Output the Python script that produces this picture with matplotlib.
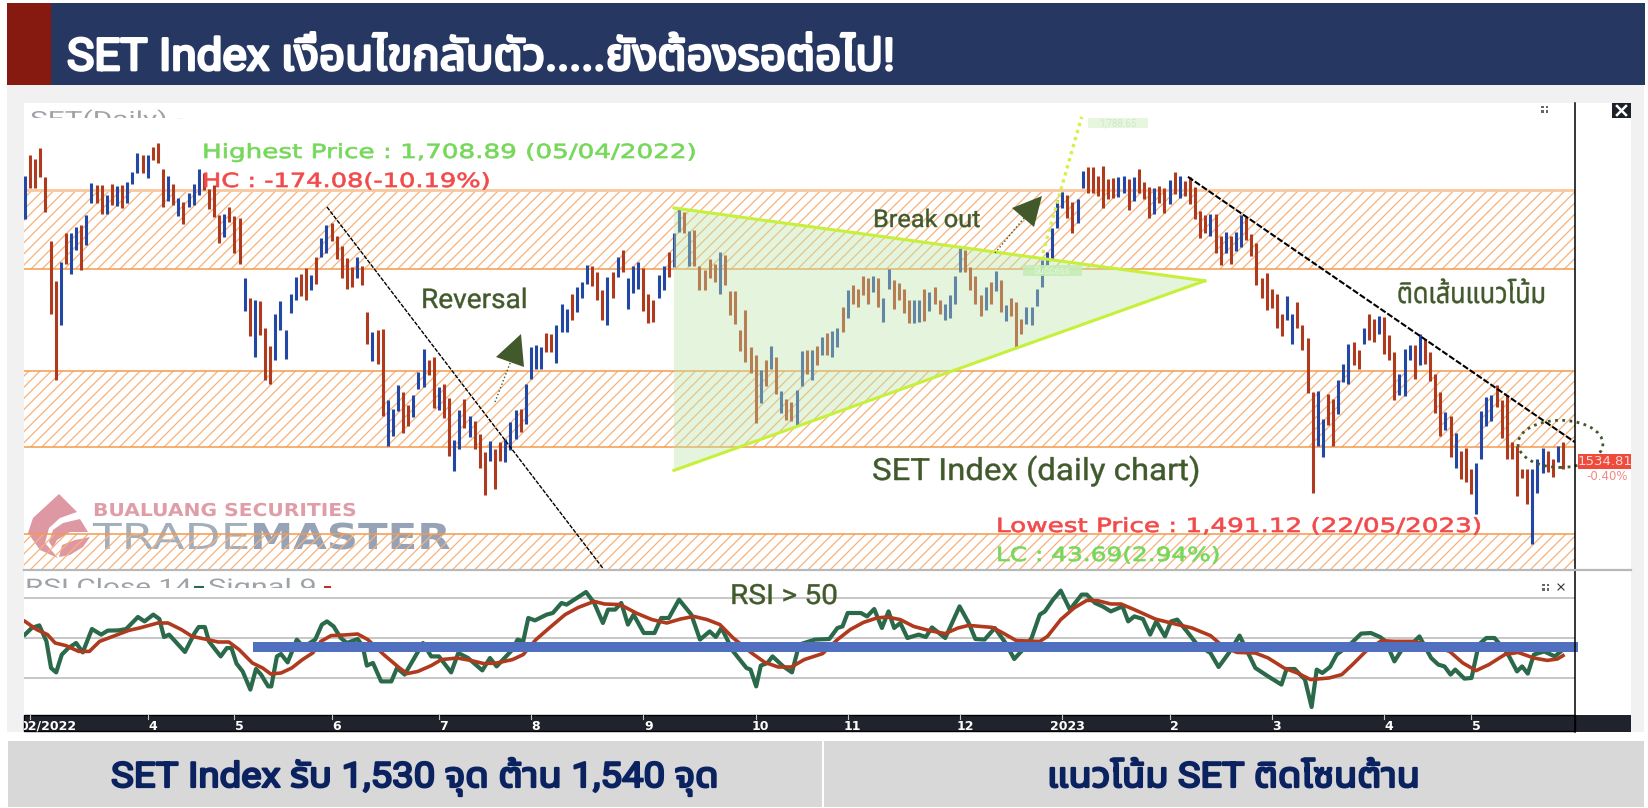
import matplotlib
matplotlib.use("Agg")
import matplotlib.pyplot as plt
from matplotlib import font_manager as fm
from matplotlib.ft2font import FT2Font
from matplotlib.patches import Rectangle, Polygon, Ellipse
from matplotlib.patheffects import AbstractPathEffect
from matplotlib.transforms import Affine2D

HIGH = [1690.9,1702.3,1699.9,1705.9,1690.1,1655.7,1633.9,1644.2,1660,1659.7,
1663.3,1664.2,1669.5,1686.9,1686,1686,1680.5,1686.3,1685.4,1686,
1687.8,1693.2,1703.2,1702.3,1702.3,1706.8,1709,1694.5,1690.9,1686.5,
1678.7,1676.5,1681.8,1686.5,1694.5,1692.3,1683.6,1686,1669.6,1670.2,
1673.8,1669.1,1667.8,1635.5,1624.8,1623.7,1623,1608.5,1598.3,1616.1,
1623,1607.4,1626.6,1636.1,1637.5,1641.1,1637,1646.9,1656.9,1664.2,
1665.5,1658.4,1652.8,1646.4,1641.5,1646.6,1641.9,1617,1606.1,1607,
1607.9,1568.9,1564.4,1577.1,1573.4,1566.2,1571.6,1584.3,1597,1590.7,
1592.5,1576.2,1577.6,1570.4,1547.5,1563.8,1569.8,1560.7,1557.7,1550.8,
1540.8,1547.1,1542.6,1546.2,1548,1557.1,1563.8,1564.4,1577.6,1597.9,
1598.9,1597.9,1605.6,1604.8,1609.7,1621.5,1618.8,1626.6,1630.6,1633.3,
1642.4,1641.9,1638.8,1628.8,1636.1,1638.8,1646.9,1650.9,1635.2,1641.9,
1644.2,1641.1,1627,1623.4,1637,1641.9,1649.7,1659.7,1672.7,1671.5,
1661.1,1661.5,1641.9,1639.7,1646,1643.3,1649.7,1647.9,1628.4,1628.4,
1607,1617.9,1597.9,1593.4,1585.6,1591,1598.3,1592.5,1574.3,1569.8,
1568,1574.7,1595.6,1596.5,1596.1,1598.3,1603.4,1605.6,1606.7,1608.5,
1619.7,1628.8,1631.5,1629.2,1636.6,1635.2,1636.4,1635.2,1624.3,1640.1,
1634.6,1632.8,1629.7,1623.4,1623.4,1623.7,1629.7,1627.9,1630.6,1623.4,
1621.2,1626.1,1636.4,1651.5,1650.9,1641.5,1636.4,1626.1,1630.6,1633.3,
1639.3,1634.2,1620.6,1624.8,1622.4,1613.4,1619.7,1619.7,1629.7,1645.1,
1649.7,1662.4,1677.8,1682.3,1680.5,1676.9,1678.2,1693.8,1695.6,1695.6,
1690.9,1696.3,1689.1,1689.6,1690.1,1690.9,1689.1,1690.1,1694.5,1687.8,
1684.7,1684.2,1685.4,1684.2,1688.7,1693.2,1690.9,1688.3,1690.1,1685.1,
1672,1669.6,1670.2,1670.2,1658.2,1660.6,1658.2,1660.6,1669.6,1668.7,
1659.3,1654.2,1635.7,1637.9,1629.2,1626.6,1616.1,1625.5,1616.1,1622.4,
1609.7,1603,1573.4,1574.3,1558.9,1572.5,1569.8,1580.2,1588.9,1599.4,
1600.7,1596.5,1608.5,1616.1,1613.4,1614.7,1614.3,1604.3,1595.2,1583.4,
1597,1598.9,1598.9,1604.8,1602.5,1595.2,1583.1,1573.4,1562.6,1560.7,
1551.1,1541.3,1543.1,1531.7,1534.8,1563.1,1570.7,1571.6,1577.1,1569.3,
1571.6,1546.2,1544.4,1531.7,1531.7,1531.7,1537.1,1543.1,1541.7,1537.1,
1543.9,1546.2]

LOW = [1667.3,1684.2,1684.2,1690.1,1671.5,1616.1,1580.2,1610.1,1642.8,1637.5,
1650.9,1639.7,1653.3,1676.4,1676.4,1670.2,1670.2,1675.1,1674.5,1673.3,
1676,1686.3,1692.3,1692.7,1689.6,1699.6,1698.1,1674.2,1677.4,1675.1,
1669.1,1664.7,1673.8,1675.1,1680.5,1683.2,1672.7,1668.7,1654.6,1657.8,
1666,1649.1,1642.8,1617.5,1603.8,1592.5,1604.3,1579.8,1577.6,1590.7,
1607,1591.6,1616.5,1623.4,1625.5,1623.7,1628.8,1632.1,1646.6,1649.1,
1655.7,1645.5,1635.7,1629.7,1630.6,1635.7,1631.5,1599.4,1590.3,1588.9,
1560.7,1543.9,1549.8,1563.1,1551.1,1555.3,1559.8,1575.3,1576.2,1582.5,
1564.9,1563.8,1559.5,1539,1530.8,1542.6,1554,1549.3,1542.6,1532.2,
1517.7,1535.9,1520.8,1535.9,1535.3,1542,1548,1551.7,1556.2,1580.7,
1586.1,1586.1,1595.2,1595.2,1589.2,1606.1,1606.1,1612.5,1617,1624.3,
1632.4,1631,1623.7,1612.5,1609.7,1624.3,1636.1,1638.8,1618.8,1627.3,
1629.7,1617.5,1611,1611.6,1624.8,1628.8,1636.1,1641.5,1660.6,1660,
1641.9,1641.9,1628.8,1628.8,1635.2,1633.3,1627,1631.5,1615.2,1610.3,
1595.8,1589.8,1583.8,1556.6,1567.5,1576.5,1586.1,1572.5,1562,1558.4,
1558,1555.3,1576.5,1583.4,1579.8,1588,1593.4,1593.4,1592.5,1597.9,
1606.1,1613.9,1621.5,1619.7,1626.1,1621.2,1627.9,1619.7,1611.6,1629.7,
1618.8,1623.4,1616.5,1611,1611,1611.6,1612.1,1617.5,1621.5,1615.7,
1612.5,1613.9,1621.5,1638.8,1638.8,1628.8,1621.2,1614.6,1617.9,1621.5,
1628.4,1617,1612.1,1614.6,1597.9,1604.8,1610.7,1609.7,1620.1,1630.6,
1642.4,1646,1662.4,1673.3,1667.8,1659.7,1665.1,1684.2,1681.4,1681.4,
1680,1673.3,1678.2,1678.7,1679.6,1681.4,1672.4,1677.4,1681.8,1678.2,
1667.8,1670.2,1676.4,1670.9,1675.6,1681.1,1678.7,1680,1675.6,1667.3,
1656.9,1659.7,1658.2,1648.8,1642.4,1648.8,1643.3,1650,1652,1656,
1647.3,1631.5,1624.8,1617.9,1619.4,1608.5,1603.8,1612.5,1599.8,1608.5,
1596.1,1572.9,1518.4,1543.9,1538.4,1555.7,1543.9,1561.6,1578.9,1577.6,
1588,1586.1,1599.8,1601.9,1600.7,1605.2,1594,1591,1569.3,1571.6,
1571.1,1590.7,1580.7,1588,1588.9,1579.4,1562,1549.8,1552.9,1538.4,
1532.2,1526.3,1524.4,1518.1,1507.2,1537.1,1554.8,1557.7,1565.3,1548.6,
1537.1,1537.1,1517.2,1526.8,1512.6,1490.9,1518.4,1529.3,1529.9,1527.5,
1535.3,1531.7]

BAR_SIDE = ("BRRRRRRBRB" "BRBBRRBRBR" "BBBRBRRRBR" "BRBBBRRRRB" "RRRBRBRRRB"
            "BBBBRRBRBB" "RRRRRBRRBR" "RBBBRRBBBR" "RBRRBBRBRR" "RBRRBBBRBB"
            "BBRRBBBRBB" "BRRRBRBRBB" "BRRRBBRBBR" "BRRRRRBRRR" "RRRRBRBRBR"
            "RBBRBRBRBB" "RBRRRRBRBB" "RRRRBBRBRR" "BBBBRRRRBR" "BRBRRRBBBB"
            "BBBBRRBBRR" "RRRRBBRBRR" "RBRRBRBRRR" "RRBRRBRBBR" "RRRRRRRBBR"
            "RRRBBRRBBB" "RRBRRBRRRB" "BBRBRRRRBR" "BRRRBBBBRR" "RRRRRBBBRR" "BR")

TICK_POS = [1, 24, 41, 60, 81, 99, 121, 143, 161, 183, 203, 224, 244, 266, 283]
TICK_LABELS = ["02/2022", "4", "5", "6", "7", "8", "9", "10", "11", "12", "2023", "2", "3", "4", "5"]

ZONES = [(1640.5, 1683.0), (1543.6, 1585.0), (1476.8, 1496.4)]

RSI_IDX = [0,1.3,2.8,4.2,5.1,6.1,7.2,8.5,10,11.3,13.1,14.9,16.2,18.3,19.8,22.1,23.4,25.1,26.3,27.2,28.2,31.3,33.2,34,35.2,36,38.3,39.5,40.4,41.4,42.6,44.1,45.2,46.2,47.6,48.2,49.3,50.1,51.4,53.2,54.5,56.8,58.1,59.1,60.4,61.8,63,65.1,66.1,66.9,68.1,69.7,71.7,72.8,74.3,77.9,79.5,81,83.4,84.8,86.7,89.5,91,92.3,95.4,96.4,97.5,98.5,99.8,102.1,103.3,105,106,109.8,111.4,113.1,114.1,115.5,116.7,118,119.1,121.1,123.2,124.5,126,128,130.4,132.1,134,135.2,136.3,138.6,141.2,142,143.1,144,145.3,146.3,148.4,150.1,151.5,154.6,157.4,159,160,161,163.6,164.8,166.2,167.7,169,170.1,171.3,172.7,174.9,176.3,177.5,180.1,182.9,184.7,186,187.8,189.8,191.9,193.6,195.3,197,198.6,199.6,201.2,202.7,204.5,206.8,207.8,209.4,210.9,212.5,214.8,215.9,217.1,218.8,220.2,221.4,223.1,224.3,225.5,227.4,229.4,232,233.6,235.6,237.7,239.2,240.8,243.3,245.9,246.9,248.5,250.5,251.8,252.8,253.9,255.4,256.7,259.3,261.5,263.4,265.2,266.3,268,270.1,271.6,272.9,275.2,276.6,277.8,279,279.9,281.7,283.1,284.5,286,287.6,290.1,292,293,294.1,295.3,297.3,299.4,301]
RSI_VAL = [51.7,55,56.3,48.3,35,32.8,41.7,45,47.5,42.8,54.5,51.7,53.7,53.8,54.5,60.5,58.3,61.7,59.5,50.5,51.7,43,52.5,55.5,55.5,48.3,40.8,45,45,37.2,33.3,24.2,34.5,31.7,25.8,25.8,40.8,42,37.8,49.2,45.5,49.2,56.7,58.3,55.8,50,47.5,49.5,45.8,36.2,37.5,28.3,28.3,35,31.7,47.5,40.8,40.8,32.8,42.5,40,33.8,40,35.8,44.2,49.2,48.3,60,58.8,61.7,62.5,67.5,66.7,73,67.5,57.5,64.2,64.2,67.5,56.7,61.7,52.5,52.5,60,60,69.2,61.7,49.2,53.3,50.5,55,43.3,35,34.2,25.8,36.2,37.5,40.8,35.8,32.8,46.7,49.2,49.5,55,55.8,62.5,62.5,60.8,64.5,55,63.3,55,57.5,50,51.7,50.5,55.3,50,65.8,57.5,49.5,49.2,55,47.5,39.5,44.2,50,61.7,63.3,69.2,73.7,64.2,71.7,71.7,67.5,65.8,63.3,65.8,58.3,60.8,59.5,51.7,58.3,50.8,58.3,59.2,53.3,46.7,42.5,35.5,42.5,51.2,43.3,35,30.8,26.7,34.5,34.5,29.2,15.5,34.2,32.5,35.5,41.7,46.7,52.2,52.5,50.5,48.3,38.3,46.7,47.5,50.8,40,36.7,35.8,31.7,34.2,29.7,30,46.7,50,50,42.5,33.3,35.8,32.2,41.7,43.3,40.8,44.2]

SIGNAL_IDX = [0,2.3,4.4,5.9,8,10.5,12.6,14.6,17.2,20.3,22.4,26,28,30.6,32.7,35.2,37.8,39.9,41.9,44.5,46.5,48.1,50.1,52.2,54.3,56.3,57.9,59.9,62.5,65.1,67.1,70.2,73.3,74.8,76.9,79.5,81.5,84.6,87.2,89.8,92.3,95.4,97.5,100,102.6,105.7,108.3,111.4,113.4,116.5,119.6,122.7,125.6,128.3,130.9,133.5,136,138.6,142.2,144.8,147.4,150,152.5,156.1,159,161.5,164.1,166.7,168.7,171.3,173.9,177,180.1,182.6,184.7,189.3,191.4,194,198.6,200.1,202.7,205.3,207.8,209.9,212.5,214.5,217.1,221.2,224.3,228.4,232,234.6,237.2,240.8,243.3,246.4,249,251.6,255.2,257.7,259.8,262.4,265.5,268,271.6,274.7,278.8,281.4,284,286.5,289.6,292.2,295.3,297.9,299.9,301]
SIGNAL_VAL = [58.3,54.2,51.7,47.5,46.2,43.3,43.3,48.3,50.8,53.8,55,57.5,57.5,54.2,50.8,49.5,48,48,44.2,37.5,35,32,32.5,35,39.2,42.5,48.3,51.2,51.5,52,49.2,41.7,35,32.2,33.3,36.2,39.2,40,38.8,37.2,37.5,39.2,41.7,49.2,55,61.7,65.3,68.3,67,66.7,62.5,59.2,57.5,59.5,60.8,59.2,56.7,50,42.5,37.8,35.5,35.5,39.2,42.2,49.2,54.2,57.8,60,60.5,59.2,55.8,53.7,52.2,55,56.3,55.3,52.5,48.7,48.3,50.8,59.2,65,68.8,68.7,67,67,64.2,59.5,57.5,55,51.2,45.5,42.8,42.5,40,35,32.5,29.2,30,31.7,36.7,43.3,48.7,48.3,48.3,46.7,43.3,37.5,33.7,36.7,41.7,42.8,40,38.8,39.5,41.2]
RSI_LEVELS = [70, 50, 30]

TRIANGLE_IDX = [127, 230.9, 127]
TRIANGLE_PRICE = [1673.5, 1633.9, 1530.9]
TREND_A = ([59.1, 113.3], [1674, 1477])
TREND_B = ([227.6, 303.3], [1690.4, 1546.3])
TARGET_LINE = ([199.2, 206.8], [1649, 1723])

NAVY = "#263862"
DARKRED = "#861A10"
OLIVE = "#41592B"
BAR_RED = "#B03A1E"
BAR_BLUE = "#2347A5"
ORANGE = "#F49A4D"
LIME = "#C6F03A"


def thai_family():
    prefer = ["Noto Sans Thai", "Noto Sans Thai Looped", "Noto Sans", "Open Sans", "Roboto", "Lato", "Inter"]
    found = {}
    for f in fm.fontManager.ttflist:
        if f.name in found:
            continue
        try:
            if 0x0E01 in FT2Font(f.fname).get_charmap():
                found[f.name] = f.fname
        except Exception:
            pass
    for p in prefer:
        if p in found:
            return p
    return sorted(found)[0] if found else None


TH = thai_family()
LATIN = "Roboto"
FAMILY = ([LATIN, TH, "DejaVu Sans"] if TH else [LATIN, "DejaVu Sans"])
WIDE = ["DejaVu Sans"]
plt.rcParams["font.family"] = FAMILY
plt.rcParams["hatch.linewidth"] = 0.9

W, H = 1648, 808
fig = plt.figure(figsize=(W / 100, H / 100), dpi=100, facecolor="white")
r = fig.canvas.get_renderer()


class Fit(AbstractPathEffect):
    """Stretch real text horizontally about x0 and optionally embolden it."""

    def __init__(self, sx, x0, stroke=0.0, color="black"):
        super().__init__()
        self.sx, self.x0, self.stroke, self.color = sx, x0, stroke, color

    def draw_path(self, renderer, gc, tpath, affine, rgbFace=None):
        aff = affine + Affine2D().translate(-self.x0, 0).scale(self.sx, 1).translate(self.x0, 0)
        gc0 = renderer.new_gc()
        gc0.copy_properties(gc)
        if self.stroke > 0:
            gc0.set_linewidth(self.stroke)
            gc0.set_foreground(self.color)
        else:
            gc0.set_linewidth(0)
        renderer.draw_path(gc0, tpath, aff, rgbFace)
        gc0.restore()


def pax(x0, y0, x1, y1, **kw):
    return fig.add_axes([x0 / W, 1 - y1 / H, (x1 - x0) / W, (y1 - y0) / H], **kw)


def page(z):
    a = fig.add_axes([0, 0, 1, 1], zorder=z)
    a.patch.set_alpha(0)
    a.set_xlim(0, W); a.set_ylim(H, 0); a.axis("off")
    return a


bg = page(0)
wm = page(1)
ov = page(5)


def put(x0, x1, base, s, color, size, stroke=0.0, family=None, clip=None, target=None, weight="normal"):
    a = target if target is not None else ov
    t = a.text(x0, base, s, color=color, fontsize=size, fontweight=weight, ha="left", va="baseline",
               family=family if family else FAMILY)
    natural = t.get_window_extent(r).width
    t.set_path_effects([Fit((x1 - x0) / natural, x0, stroke, color)])
    if clip:
        t.set_clip_path(Rectangle((clip[0], clip[1]), clip[2], clip[3], transform=a.transData))
        t.set_clip_on(True)
    return t


# page furniture
bg.add_patch(Rectangle((7, 85), 1637, 647, fc="#F1F1F1", ec="none"))
bg.add_patch(Rectangle((24, 103), 1607, 629, fc="white", ec="none"))
bg.add_patch(Rectangle((7, 3), 1638, 82, fc=NAVY, ec="none"))
bg.add_patch(Rectangle((7, 3), 44, 82, fc=DARKRED, ec="none"))
bg.add_patch(Rectangle((8, 741), 814, 66, fc="#D8D8D8", ec="none"))
bg.add_patch(Rectangle((824, 741), 820, 66, fc="#D8D8D8", ec="none"))
bg.add_patch(Rectangle((24, 715), 1607, 17, fc="#20232C", ec="none"))
bg.add_patch(Rectangle((24, 715), 1551, 16, fc="none", ec="black", lw=1))

# price panel
ax = pax(24, 103, 1575, 570, zorder=2)
ax.patch.set_alpha(0)
n = len(HIGH)
step = (1563 - 25) / (n - 1)
ax.set_xlim(-1 / step, (1575 - 25) / step)
ax.set_ylim(1476.8, 1730.5)
for s in ax.spines.values():
    s.set_visible(False)
ax.set_xticks([]); ax.set_yticks([])

for lo, hi in ZONES:
    ax.axhspan(lo, hi, facecolor="none", edgecolor="#F7B27A", hatch="///", linewidth=0, zorder=1)
    ax.axhline(lo, color=ORANGE, lw=1.1, zorder=1.2)
    ax.axhline(hi, color=ORANGE if hi < 1600 else "#F9C79E", lw=1.1 if hi < 1600 else 2, zorder=1.2)

colors = [BAR_RED if c == "R" else BAR_BLUE for c in BAR_SIDE]
ax.vlines(range(n), LOW, HIGH, colors=colors, lw=2.2, zorder=2)

ax.add_patch(Polygon(list(zip(TRIANGLE_IDX, TRIANGLE_PRICE)), closed=True, fc="#BFE5A8", ec="none", alpha=0.4, zorder=3))
ax.plot(TRIANGLE_IDX[:2], TRIANGLE_PRICE[:2], color=LIME, lw=2.2, zorder=3.2)
ax.plot(TRIANGLE_IDX[1:], TRIANGLE_PRICE[1:], color=LIME, lw=2.2, zorder=3.2)
ax.plot(*TREND_A, color="black", lw=1.0, ls=(0, (3, 1)), zorder=4)
ax.plot(*TREND_B, color="black", lw=1.5, ls=(0, (3, 1)), zorder=4)
ax.plot(*TARGET_LINE, color="#D2F24A", lw=2.4, ls=(0, (1, 1.2)), zorder=4, clip_on=False)
ax.add_patch(Ellipse((300.5, 1545.3), 16.6, 25.6, fc="none", ec=OLIVE, lw=2, ls=(0, (1, 1.6)), zorder=4, clip_on=False))

# RSI panel
rx = pax(24, 570, 1575, 715, zorder=2)
rx.patch.set_alpha(0)
rx.set_xlim(ax.get_xlim())
rx.set_ylim(11.5, 84)
for s in rx.spines.values():
    s.set_visible(False)
rx.set_xticks([]); rx.set_yticks([])
for lv in RSI_LEVELS:
    rx.axhline(lv, color="#BDBDBD", lw=1.2, zorder=1)
rx.plot(RSI_IDX, RSI_VAL, color="#2A6A4A", lw=3.0, zorder=2)
rx.plot(SIGNAL_IDX, SIGNAL_VAL, color="#B03A1E", lw=2.6, zorder=3)
rx.fill_between([44.6, 304], 43.2, 47.9, color="#5070BF", lw=0, zorder=4, clip_on=False)

# headings
put(67, 895, 70, "SET Index เงื่อนไขกลับตัว.....ยังต้องรอต่อไป!", "white", 32, stroke=2.0)
put(111, 719, 787, "SET Index รับ 1,530 จุด ต้าน 1,540 จุด", "#0B2260", 25, stroke=1.6)
put(1047, 1419, 787, "แนวโน้ม SET ติดโซนต้าน", "#0B2260", 25, stroke=1.6)

# levels
put(202, 697, 158, "Highest Price : 1,708.89 (05/04/2022)", "#76D85A", 14, stroke=0.5, family=WIDE)
put(202, 491, 187, "HC : -174.08(-10.19%)", "#F2494B", 14, stroke=0.5, family=WIDE)
put(996, 1483, 532, "Lowest Price : 1,491.12 (22/05/2023)", "#F2494B", 14, stroke=0.5, family=WIDE)
put(996, 1221, 561, "LC : 43.69(2.94%)", "#76D85A", 14, stroke=0.5, family=WIDE)

# commentary
put(421, 528, 308, "Reversal", OLIVE, 19.5, stroke=0.3)
put(873, 980, 227, "Break out", OLIVE, 17.5, stroke=0.3)
put(872, 1200, 480, "SET Index (daily chart)", OLIVE, 22, stroke=0.3)
put(1397, 1546, 303, "ติดเส้นแนวโน้ม", OLIVE, 21, stroke=0.3)
put(730, 838, 604, "RSI > 50", OLIVE, 20, stroke=0.3)

# clipped panel captions
put(30, 167, 125.5, "SET(Daily)", "#9EA3A8", 14.5, clip=(24, 103, 200, 15))
put(176, 182, 125.5, "-", BAR_BLUE, 14.5, stroke=0.8, clip=(24, 103, 200, 15.5))
put(25, 192, 593.5, "RSI Close 14", "#9EA3A8", 15, clip=(24, 572, 330, 15.5))
put(193, 204, 593.5, "-", "#2A6A4A", 15, stroke=0.8, clip=(24, 572, 330, 15.5))
put(208, 317, 593.5, "Signal 9", "#9EA3A8", 15, clip=(24, 572, 330, 15.5))
put(323, 331, 593.5, "-", BAR_RED, 15, stroke=0.8, clip=(24, 572, 330, 15.5))

# arrows
ov.add_patch(Polygon([(496, 357), (521, 334), (524, 367)], fc=OLIVE, ec="none"))
ov.plot([495, 514], [402, 353], color=OLIVE, lw=1, ls=":")
ov.add_patch(Polygon([(1012, 208), (1042, 196), (1034, 227)], fc=OLIVE, ec="none"))
ov.plot([995, 1029], [253, 212], color=OLIVE, lw=1, ls=":")

# small pale tags
ov.add_patch(Rectangle((1023, 265), 59, 11, fc="#C4EDB4", ec="none", alpha=0.9))
ov.text(1052, 270.5, "Success", fontsize=7, color="#E4F6DC", ha="center", va="center")
ov.add_patch(Rectangle((1088, 118), 60, 10, fc="#E6F6DF", ec="none"))
ov.text(1118, 123, "1,788.65", fontsize=7, color="#CFEBC5", ha="center", va="center")

# watermark, beneath the price panel
PINK = "#DD98A3"
wm.add_patch(Polygon([(59, 494), (77, 512), (60, 518), (49, 528), (45, 543), (58, 558), (40, 550), (28, 533), (33, 518)], fc=PINK, ec="none"))
wm.add_patch(Polygon([(80, 519), (88, 532), (70, 532), (57, 540), (53, 548), (49, 542), (53, 530), (63, 523)], fc=PINK, ec="none"))
wm.add_patch(Polygon([(90, 537), (75, 540), (62, 545), (59, 557), (70, 555), (83, 547)], fc=PINK, ec="none"))
put(93, 356, 516, "BUALUANG SECURITIES", "#DF9DA8", 12.8, family=WIDE, target=wm, weight="bold")
put(93, 250, 549, "TRADE", "#A3AEBD", 25.7, family=WIDE, target=wm)
put(250, 450, 549, "MASTER", "#96A2B6", 25.7, family=WIDE, target=wm, weight="bold")

# right-hand gutter
ov.plot([1575.5, 1575.5], [103, 732], color="black", lw=1.1)
ov.plot([24, 1631], [570, 570], color="#B8B8B8", lw=1.6)
ov.add_patch(Rectangle((1578, 454), 53, 15, fc="#EE4B3C", ec="none"))
ov.text(1605, 461.5, "1534.81", color="#FAD9D5", fontsize=9.5, ha="center", va="center", family=WIDE)
ov.text(1607, 477, "-0.40%", color="#F08A80", fontsize=8.5, ha="center", va="center", family=WIDE)
ov.add_patch(Rectangle((1612, 103), 19, 15, fc="#1E2128", ec="none"))
ov.plot([1617, 1626], [106, 115], color="white", lw=1.8)
ov.plot([1617, 1626], [115, 106], color="white", lw=1.8)
for cx, cy in [(1545, 109), (1546, 587)]:
    for dx in (-3.5, 1):
        for dy in (-3.5, 1):
            ov.add_patch(Rectangle((cx + dx, cy + dy), 2.5, 2.5, fc="#666666", ec="none"))
ov.plot([1558, 1564], [584, 590], color="#333333", lw=0.8)
ov.plot([1558, 1564], [590, 584], color="#333333", lw=0.8)

# date strip ticks and labels
for pos, lab in zip(TICK_POS, TICK_LABELS):
    xp = 25 + pos * step
    ov.plot([xp, xp], [715, 719], color="#C8C8C8", lw=0.8)
    if lab == "02/2022":
        t = ov.text(19, 726, lab, color="white", fontsize=9, fontweight="bold", ha="left", va="center", family=WIDE)
        t.set_clip_path(Rectangle((24, 715), 100, 17, transform=ov.transData))
        t.set_clip_on(True)
    else:
        ov.text(xp + 5, 726, lab, color="white", fontsize=9, fontweight="bold", ha="center", va="center", family=WIDE)

fig.savefig("out.png", dpi=100, facecolor="white")
